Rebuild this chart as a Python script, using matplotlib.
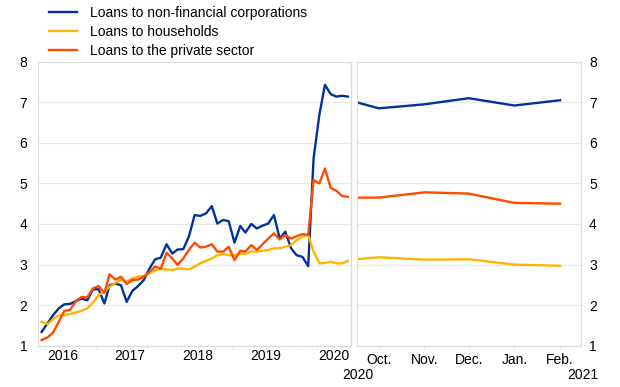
"""
plot.py

Loans to the private sector: long-run monthly history and the most recent months.
"""

import numpy as np
import pandas as pd
import matplotlib
matplotlib.use("Agg")
import matplotlib.pyplot as plt
import matplotlib.dates as mdates

plt.rcParams["font.family"] = ["Liberation Sans", "DejaVu Sans"]
plt.rcParams["font.size"] = 10

# monthly history, March 2016 - September 2020
dates = pd.date_range("2016-03-01", periods=55, freq="MS") + pd.Timedelta(days=14)
nfc = [1.34, 1.55, 1.75, 1.92, 2.02, 2.03, 2.10, 2.16, 2.12, 2.39, 2.39, 2.04,
       2.49, 2.53, 2.49, 2.08, 2.35, 2.47, 2.62, 2.90, 3.13, 3.17, 3.50, 3.27,
       3.37, 3.38, 3.69, 4.22, 4.20, 4.26, 4.44, 4.01, 4.10, 4.07, 3.54, 3.95,
       3.79, 4.00, 3.89, 3.96, 4.01, 4.22, 3.64, 3.81, 3.40, 3.23, 3.19, 2.96,
       5.62, 6.69, 7.43, 7.20, 7.14, 7.16, 7.14]
households = [1.59, 1.53, 1.65, 1.75, 1.75, 1.78, 1.82, 1.86, 1.92, 2.06, 2.25, 2.33,
              2.45, 2.55, 2.63, 2.59, 2.66, 2.70, 2.72, 2.78, 2.86, 2.89, 2.88, 2.86,
              2.90, 2.90, 2.88, 2.95, 3.03, 3.09, 3.15, 3.23, 3.26, 3.23, 3.23, 3.27,
              3.26, 3.32, 3.32, 3.34, 3.36, 3.40, 3.40, 3.44, 3.48, 3.60, 3.69, 3.73,
              3.32, 3.03, 3.04, 3.07, 3.03, 3.03, 3.09]
private = [1.14, 1.20, 1.32, 1.59, 1.86, 1.88, 2.10, 2.20, 2.19, 2.41, 2.47, 2.30,
           2.76, 2.63, 2.70, 2.52, 2.62, 2.63, 2.70, 2.82, 2.95, 2.90, 3.29, 3.15,
           2.99, 3.15, 3.36, 3.54, 3.42, 3.44, 3.50, 3.32, 3.32, 3.44, 3.11, 3.34,
           3.32, 3.48, 3.36, 3.50, 3.64, 3.77, 3.62, 3.73, 3.64, 3.70, 3.75, 3.73,
           5.08, 5.00, 5.37, 4.89, 4.82, 4.69, 4.67]

# recent months
recent_dates = pd.to_datetime(["2020-09-16", "2020-10-01", "2020-11-01",
                               "2020-12-01", "2021-01-01", "2021-02-01"])
recent_nfc = [7.00, 6.85, 6.95, 7.10, 6.92, 7.05]
recent_households = [3.13, 3.18, 3.12, 3.13, 3.00, 2.97]
recent_private = [4.65, 4.65, 4.78, 4.75, 4.52, 4.50]

year_labels = ["2016", "2017", "2018", "2019", "2020"]
month_labels = ["Oct.", "Nov.", "Dec.", "Jan.", "Feb."]

labels = ["Loans to non-financial corporations", "Loans to households",
          "Loans to the private sector"]
colors = ["#003299", "#ffb400", "#ff4b00"]
grid_c = "#e8e8e8"
frame_c = "#dcdcdc"

fig = plt.figure(figsize=(6.2, 3.87), dpi=100)
ax1 = fig.add_axes([38.3 / 620, 1 - 345.7 / 387, (351 - 38.3) / 620, 284 / 387])
ax2 = fig.add_axes([356.7 / 620, 1 - 345.7 / 387, (580.7 - 356.7) / 620, 284 / 387])

lines = []
for ser, c in zip([nfc, households, private], colors):
    lines += ax1.plot(dates, ser, color=c, lw=1.7, solid_joinstyle="round")
for ser, c in zip([recent_nfc, recent_households, recent_private], colors):
    ax2.plot(recent_dates, ser, color=c, lw=1.7, solid_joinstyle="round")

for ax in (ax1, ax2):
    ax.set_ylim(1, 8)
    ax.set_yticks(range(1, 9))
    ax.grid(axis="y", color=grid_c, lw=0.9)
    ax.set_axisbelow(True)
    for s in ax.spines.values():
        s.set_color(frame_c)
        s.set_linewidth(0.9)
    ax.tick_params(axis="x", which="both", length=3, color="#ececec",
                   labelsize=10, pad=2.5)
    ax.tick_params(axis="y", length=0, labelsize=10)

# left panel
ax1.set_xlim(dates[0] - pd.Timedelta(days=18), dates[-1] + pd.Timedelta(days=17))
ax1.set_xticks(pd.to_datetime([y + "-07-04" for y in year_labels]))
ax1.set_xticklabels(year_labels)
ax1.set_xticks(pd.date_range("2016-04-01", "2020-09-01", freq="QS"), minor=True)
ax1.tick_params(axis="x", which="major", length=0)
ax1.tick_params(axis="y", pad=8)

# right panel
ax2.set_xlim(recent_dates[0], pd.Timestamp("2021-02-15"))
ax2.set_xticks(recent_dates[1:])
ax2.set_xticklabels(month_labels)
ax2.yaxis.tick_right()
ax2.tick_params(axis="y", pad=6)

fig.text(358 / 620, 1 - 375 / 387, "2020", ha="center", va="center", fontsize=10)
fig.text(583 / 620, 1 - 375 / 387, "2021", ha="center", va="center", fontsize=10)

fig.legend(lines, labels, loc="upper left", bbox_to_anchor=(46 / 620, 1 - 3 / 387),
           frameon=False, handlelength=2.0, handletextpad=1.0,
           labelspacing=0.38, borderpad=0.2, borderaxespad=0, fontsize=10)

fig.savefig("out.png", dpi=100)
